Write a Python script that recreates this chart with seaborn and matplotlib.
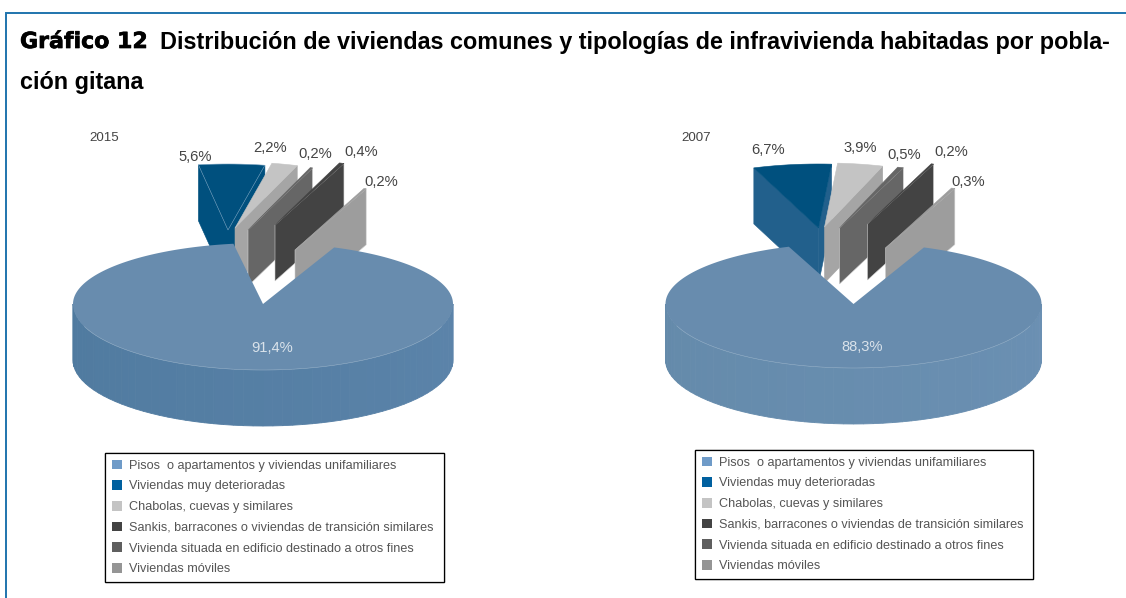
import matplotlib
matplotlib.use("Agg")
import matplotlib.patheffects as pe
import matplotlib.pyplot as plt
import numpy as np
import seaborn as sns
from matplotlib.patches import Patch

categories = [
    "Pisos  o apartamentos y viviendas unifamiliares",
    "Viviendas muy deterioradas",
    "Chabolas, cuevas y similares",
    "Sankis, barracones o viviendas de transición similares",
    "Vivienda situada en edificio destinado a otros fines",
    "Viviendas móviles",
]
values_2015 = [91.4, 5.6, 2.2, 0.2, 0.4, 0.2]
values_2007 = [88.3, 6.7, 3.9, 0.5, 0.2, 0.3]

legend_colors = ["#6f9bc8", "#00609f", "#c4c4c4", "#434343", "#5f5f5f", "#959595"]
top_colors = ["#688cae", "#00507e", "#c4c4c4", "#666666", "#434343", "#9d9d9d"]
wall_colors_2015 = ["#4f7a9f", "#00507e", "#a5a5a5", "#666666", "#434343", "#9d9d9d"]
wall_colors_2007 = ["#6389a9", "#22608c", "#a5a5a5", "#666666", "#434343", "#9d9d9d"]

# how far each piece is pulled out of the pie, in pixels (first one stays in place)
explode_2015 = [(0, 0), (-35, -74), (-28, -76), (-15, -74), (12, -79), (32, -54)]
explode_2007 = [(0, 0), (-35, -76), (-29, -77), (-14, -76), (14, -80), (32, -56)]

label_pos_2015 = [(272, 348), (195, 157), (270, 148), (315, 154), (361, 152), (381, 182)]
label_pos_2007 = [(862, 347), (768, 150), (860, 148), (904, 155), (951, 152), (968, 182)]

W, H = 1126, 598
RY_BACK = 61  # far half of the big piece looks flatter than the near half


def rim(cx, cy, rx, ry, angles, ry_back=None):
    rad = np.radians(angles)
    cos = np.cos(rad)
    back = ry if ry_back is None else ry_back
    return cx + rx * np.sin(rad), cy - np.where(cos > 0, back, ry) * cos


def draw_pie(ax, values, center, rx, ry, depth, walls, explode, wall_dark, wall_light, seam):
    cx, cy = center
    spans = np.array(values) * 3.6
    start = 22.0
    ends = start + np.cumsum(spans)
    starts = ends - spans

    # small pieces first, the big one goes over them
    for i in range(1, len(values)):
        a, b = starts[i] - 360, ends[i] - 360
        x0, y0 = cx + explode[i][0], cy + explode[i][1]
        for ang, vis in ((a, a < 0), (b, b > 0)):
            if vis:
                xr, yr = rim(x0, y0, rx, ry, ang)
                ax.fill([x0, xr, xr, x0], [y0, yr, yr + depth, y0 + depth],
                        facecolor=walls[i], edgecolor="#cfcfcf" if i > 2 else walls[i],
                        lw=0.4, zorder=2 + i)
        arc = np.linspace(a, b, 12)
        xa, ya = rim(x0, y0, rx, ry, arc)
        ax.fill(np.r_[x0, xa], np.r_[y0, ya], facecolor=top_colors[i],
                edgecolor=seam if i == 1 else top_colors[i], lw=0.4, zorder=2 + i)

    # side of the big piece, shaded in narrow strips
    light = np.array(matplotlib.colors.to_rgb(wall_light))
    dark = np.array(matplotlib.colors.to_rgb(wall_dark))
    strip = np.linspace(90, 270, 61)
    for k in range(len(strip) - 1):
        xs, ys = rim(cx, cy, rx, ry, strip[k:k + 2])
        t = k / (len(strip) - 2)
        col = light * (1 - t) + dark * t
        ax.fill(np.r_[xs, xs[::-1]], np.r_[ys, ys[::-1] + depth], color=col, lw=0.6, zorder=10)

    arc = np.linspace(starts[0], ends[0], 240)
    xa, ya = rim(cx, cy, rx, ry, arc, RY_BACK)
    ax.fill(np.r_[cx, xa], np.r_[cy, ya], facecolor=top_colors[0], edgecolor="none", zorder=11)
    front = np.linspace(110, 250, 100)
    xf, yf = rim(cx, cy, rx, ry, front)
    ax.plot(xf, yf, color="#93aec6", lw=0.4, zorder=12)


def draw_labels(ax, values, positions):
    for i, (v, (x, y)) in enumerate(zip(values, positions)):
        txt = f"{v:.1f}%".replace(".", ",")
        ax.text(x, y, txt, ha="center", va="center", fontsize=10.6,
                color="#d9e2ea" if i == 0 else "#444444", zorder=20)


sns.set_theme(style="white")
plt.rcParams["font.family"] = ["Liberation Sans", "DejaVu Sans"]

fig = plt.figure(figsize=(W / 100, H / 100), dpi=100)
ax = fig.add_axes([0, 0, 1, 1])
ax.set_xlim(0, W)
ax.set_ylim(H, 0)
ax.axis("off")

# frame of the figure box
ax.plot([6, 6, W], [H, 13, 13], color="#1f74ad", lw=1.4, solid_joinstyle="miter", zorder=1)

t1 = ax.text(20, 42, "Gráfico 12", fontsize=15.9, fontweight="bold", family="DejaVu Sans",
             color="black", va="center")
t1.set_path_effects([pe.withStroke(linewidth=0.5, foreground="black")])
ax.text(160, 42, "Distribución de viviendas comunes y tipologías de infravivienda habitadas por pobla-",
        fontsize=16.85, fontweight="bold", color="black", va="center")
ax.text(20, 83, "ción gitana", fontsize=16.85, fontweight="bold", color="black", va="center")

ax.text(104, 138, "2015", fontsize=9.6, color="#444444", ha="center", va="center")
ax.text(696, 138, "2007", fontsize=9.6, color="#444444", ha="center", va="center")

draw_pie(ax, values_2015, (263, 304), 190, 66, 56, wall_colors_2015, explode_2015,
         "#4f7a9f", "#5c84aa", "#6f9cbc")
draw_pie(ax, values_2007, (853.5, 304), 188, 64, 56, wall_colors_2007, explode_2007,
         "#648aaa", "#6b90b3", "#00507e")
draw_labels(ax, values_2015, label_pos_2015)
draw_labels(ax, values_2007, label_pos_2007)

handles = [Patch(facecolor=c, edgecolor="none") for c in sns.color_palette(legend_colors)]
for (x0, y0, x1, y1) in [(105, 453, 444, 582), (695, 450, 1033, 578)]:
    leg = fig.legend(handles, categories, loc="upper left",
                     bbox_to_anchor=(x0 / W, 1 - y1 / H, (x1 - x0) / W, (y1 - y0) / H),
                     mode="expand", fontsize=9.05, frameon=True, fancybox=False, framealpha=1,
                     edgecolor="black", handlelength=0.8, handleheight=0.8, handletextpad=0.55,
                     labelspacing=0.68, borderpad=0.52, borderaxespad=0, labelcolor="#555555")
    leg.get_frame().set_linewidth(0.9)
    fig.add_artist(leg)

fig.savefig("out.png", dpi=100)
